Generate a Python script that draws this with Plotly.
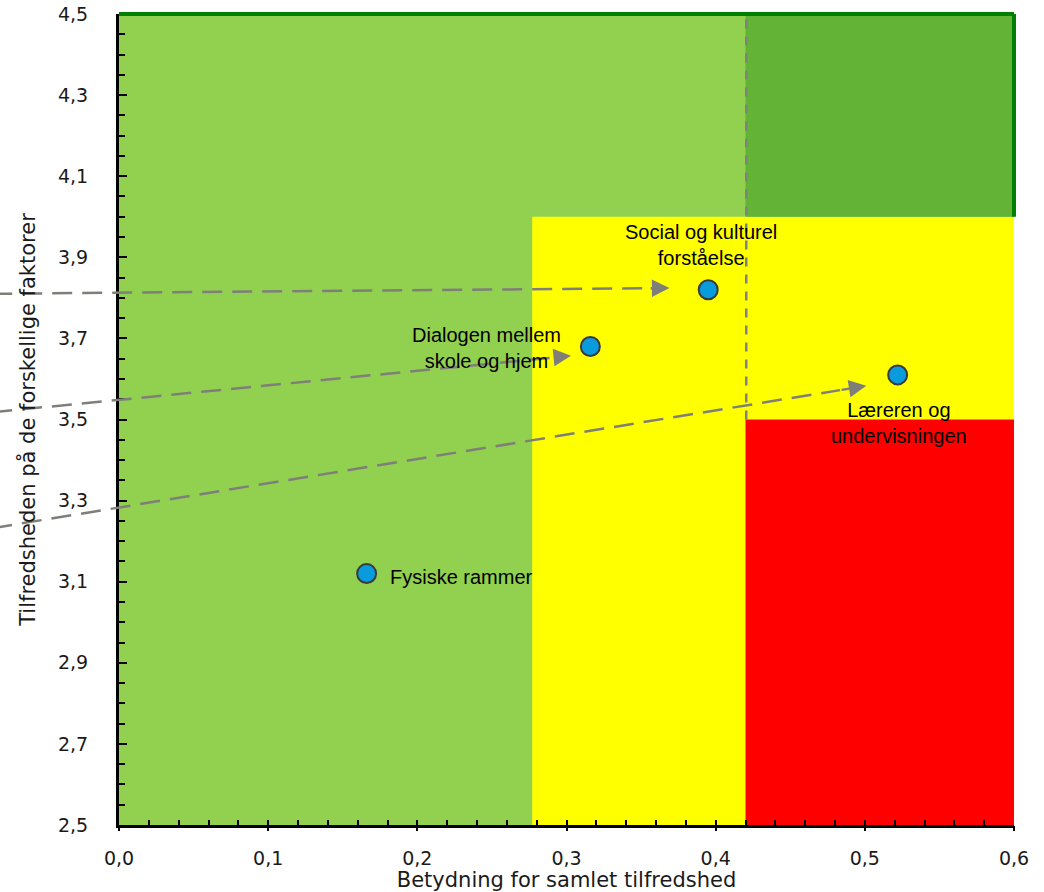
import plotly.graph_objects as go

# data
factors = ["Fysiske rammer", "Dialogen mellem<br>skole og hjem",
           "Social og kulturel<br>forståelse", "Læreren og<br>undervisningen"]
importance = [0.166, 0.316, 0.395, 0.522]      # Betydning for samlet tilfredshed
satisfaction = [3.12, 3.68, 3.82, 3.61]        # Tilfredsheden

# label offsets (pixels) relative to each point
label_dx = [21, -104, -7, 1]
label_dy = [-3, -1, 45, -48]
label_anchor = ["left", "center", "center", "center"]

# coloured zones: x0, x1, y0, y1
zone_x0 = [0.277, 0.42, 0.42]
zone_x1 = [0.6, 0.6, 0.6]
zone_y0 = [2.5, 2.5, 4.0]
zone_y1 = [4.0, 3.5, 4.5]
zone_col = ["#FFFF00", "#FF0000", "#62B336"]

# dashed arrows (start -> tip) in data units
arrow_x0 = [-0.085, -0.085, -0.085]
arrow_y0 = [3.81, 3.518, 3.232]
arrow_x1 = [0.369, 0.303, 0.501]
arrow_y1 = [3.824, 3.657, 3.583]

XMIN, XMAX, YMIN, YMAX = 0.0, 0.6, 2.5, 4.5


def px(x):
    return (x - XMIN) / (XMAX - XMIN)


def py(y):
    return (y - YMIN) / (YMAX - YMIN)


fig = go.Figure()
fig.add_trace(go.Scatter(
    x=importance, y=satisfaction, mode="markers",
    marker=dict(size=19, color="#0A9BDC", line=dict(color="#3A3A3A", width=2)),
    showlegend=False, hoverinfo="skip"))
# empty trace for the overlay axis (outer part of the x major ticks)
fig.add_trace(go.Scatter(x=[None], y=[None], xaxis="x2", showlegend=False, hoverinfo="skip"))

shapes = []
for x0, x1, y0, y1, c in zip(zone_x0, zone_x1, zone_y0, zone_y1, zone_col):
    shapes.append(dict(type="rect", xref="x", yref="y", x0=x0, x1=x1, y0=y0, y1=y1,
                       fillcolor=c, line=dict(width=0), layer="below"))
# green frame: top edge and right edge of the dark green zone (paper refs, not clipped)
shapes.append(dict(type="line", xref="paper", yref="paper", x0=0, x1=1, y0=1, y1=1,
                   line=dict(color="#008000", width=4), layer="above"))
shapes.append(dict(type="line", xref="paper", yref="paper", x0=1, x1=1, y0=py(4.0), y1=1,
                   line=dict(color="#008000", width=4), layer="above"))
# vertical dashed threshold
shapes.append(dict(type="line", xref="x", yref="y", x0=0.4205, x1=0.4205, y0=3.5, y1=YMAX,
                   line=dict(color="#808080", width=2.5, dash="9px,8px"), layer="above"))

annotations = []
for x0, y0, x1, y1 in zip(arrow_x0, arrow_y0, arrow_x1, arrow_y1):
    # dashed body (paper refs so it can run outside the plot area)
    f = 0.97
    xe = x0 + (x1 - x0) * f
    ye = y0 + (y1 - y0) * f
    shapes.append(dict(type="line", xref="paper", yref="paper",
                       x0=px(x0), y0=py(y0), x1=px(xe), y1=py(ye),
                       line=dict(color="#7F7F7A", width=2.5, dash="20px,10px"), layer="above"))
    annotations.append(dict(x=x1, y=y1, ax=xe, ay=ye, xref="x", yref="y", axref="x", ayref="y",
                            text="", showarrow=True, arrowhead=2, arrowsize=1.4,
                            arrowwidth=2.5, arrowcolor="#7F7F7A", standoff=0))

for name, x, y, dx, dy, anc in zip(factors, importance, satisfaction, label_dx, label_dy, label_anchor):
    annotations.append(dict(x=x, y=y, xref="x", yref="y", text=name, showarrow=False,
                            xanchor=anc, yanchor="middle", xshift=dx, yshift=dy, align="center",
                            font=dict(family="Liberation Sans, Arial", size=20, color="black")))

fig.update_layout(
    width=1044, height=892,
    margin=dict(l=119, r=30, t=14, b=67, autoexpand=False),
    paper_bgcolor="white", plot_bgcolor="#92D050",
    separators=", ",
    font=dict(family="DejaVu Sans", size=19, color="#1a1a1a"),
    shapes=shapes, annotations=annotations,
    xaxis=dict(range=[XMIN, XMAX], tick0=0, dtick=0.1, tickformat=".1f",
               showgrid=False, zeroline=False, automargin=False, ticklabeloverflow="allow",
               showline=True, linecolor="black", linewidth=2.5,
               ticks="inside", ticklen=5, tickwidth=2, tickcolor="black",
               minor=dict(dtick=0.02, ticks="inside", ticklen=5, tickwidth=2, tickcolor="black"),
               ticklabelstandoff=14,
               title=dict(text="Betydning for samlet tilfredshed", standoff=0,
                          font=dict(size=21, color="#1a1a1a"))),
    xaxis2=dict(overlaying="x", anchor="y", side="bottom", range=[XMIN, XMAX],
                tick0=0, dtick=0.1, showline=False, showgrid=False, zeroline=False,
                ticks="outside", ticklen=5, tickwidth=2, tickcolor="black",
                showticklabels=False, automargin=False),
    yaxis=dict(range=[YMIN, YMAX], tick0=2.5, dtick=0.2, tickformat=".1f",
               showgrid=False, zeroline=False, automargin=False, ticklabeloverflow="allow",
               showline=True, linecolor="black", linewidth=3,
               ticks="inside", ticklen=8, tickwidth=2, tickcolor="black",
               minor=dict(dtick=0.05, ticks="inside", ticklen=6, tickwidth=2, tickcolor="black"),
               ticklabelstandoff=24,
               title=dict(text="Tilfredsheden på de forskellige faktorer", standoff=17,
                          font=dict(size=21, color="#1a1a1a"))),
)

# drop the default 8px body margin so the figure fills the window exactly
fig.write_html("out.html", config={"displayModeBar": False},
               post_script="document.body.style.margin='0';")
